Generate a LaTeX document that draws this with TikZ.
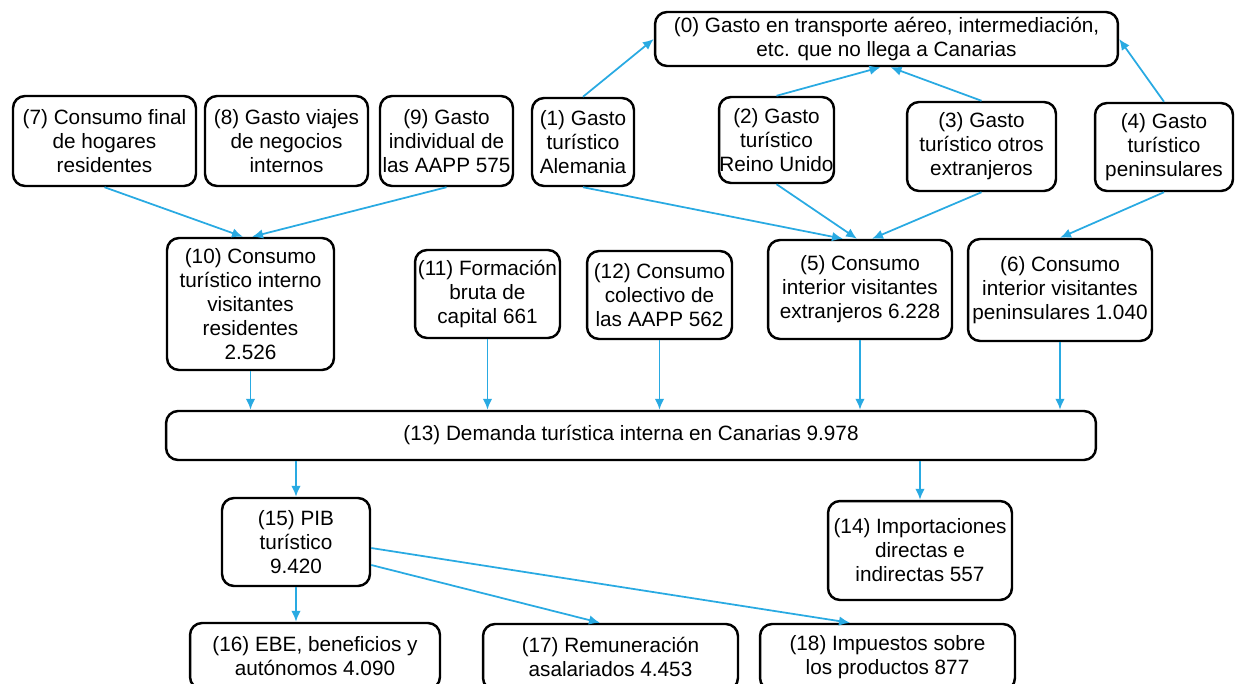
\documentclass[tikz,border=0pt]{standalone}
\usepackage{fontspec}
\setmainfont{Liberation Sans}
\usetikzlibrary{arrows.meta, shapes}
\definecolor{azul}{RGB}{41,170,226}

\begin{document}
\begin{tikzpicture}[x=0.02cm, y=-0.02cm, >={Latex[length=2.2mm, width=1.9mm]}]
    \tikzstyle{every node} = [shape=rectangle, rounded corners=0.24cm, line width=1.4pt, inner sep=0pt, align=center, font=\fontsize{11.8}{13.66}\selectfont]
    \tikzstyle{flecha} = [->, draw=azul, line width=1pt]
    \useasboundingbox (0, 0) rectangle (1236, 683);
    % fila de arriba
    \node (n0) [draw, minimum width=9.26cm, minimum height=1.08cm] at (886.5, 39) {(0) Gasto en transporte aéreo, intermediación,\\etc. que no llega a Canarias};
    \node (n1) [draw, minimum width=2.04cm, minimum height=1.76cm] at (583, 142) {(1) Gasto\\turístico\\Alemania};
    \node (n2) [draw, minimum width=2.3cm, minimum height=1.72cm] at (776.5, 140) {(2) Gasto\\turístico\\Reino Unido};
    \node (n3) [draw, minimum width=2.98cm, minimum height=1.78cm] at (981.5, 146.5) {(3) Gasto\\turístico otros\\extranjeros};
    \node (n4) [draw, minimum width=2.76cm, minimum height=1.76cm] at (1164, 147) {(4) Gasto\\turístico\\peninsulares};
    \node (n7) [draw, minimum width=3.66cm, minimum height=1.8cm] at (104.5, 141) {(7) Consumo final\\de hogares\\residentes};
    \node (n8) [draw, minimum width=3.26cm, minimum height=1.8cm] at (286.5, 141) {(8) Gasto viajes\\de negocios\\internos};
    \node (n9) [draw, minimum width=2.66cm, minimum height=1.8cm] at (446.5, 141) {(9) Gasto\\individual de\\las AAPP 575};
    % fila del medio
    \node (n10) [draw, minimum width=3.34cm, minimum height=2.64cm] at (250.5, 304) {(10) Consumo\\turístico interno\\visitantes\\residentes\\2.526};
    \node (n11) [draw, minimum width=2.9cm, minimum height=1.76cm] at (487.5, 294) {(11) Formación\\bruta de\\capital 661};
    \node (n12) [draw, minimum width=2.9cm, minimum height=1.76cm] at (659.5, 295) {(12) Consumo\\colectivo de\\las AAPP 562};
    \node (n5) [draw, minimum width=3.68cm, minimum height=1.98cm] at (860, 289.5) {(5) Consumo\\interior visitantes\\extranjeros 6.228};
    \node (n6) [draw, minimum width=3.68cm, minimum height=2.04cm] at (1060, 290) {(6) Consumo\\interior visitantes\\peninsulares 1.040};
    \node (n13) [draw, minimum width=18.6cm, minimum height=0.98cm] at (631, 435.5) {(13) Demanda turística interna en Canarias 9.978};
    % fila de abajo
    \node (n15) [draw, minimum width=2.96cm, minimum height=1.76cm] at (296, 542) {(15) PIB\\turístico\\9.420};
    \node (n14) [draw, minimum width=3.68cm, minimum height=1.98cm] at (920, 550.5) {(14) Importaciones\\directas e\\indirectas 557};
    \node (n16) [draw, minimum width=5cm, minimum height=1.32cm] at (315, 656) {(16) EBE, beneficios y\\autónomos 4.090};
    \node (n17) [draw, minimum width=5.1cm, minimum height=1.32cm] at (610.5, 657) {(17) Remuneración\\asalariados 4.453};
    \node (n18) [draw, minimum width=5.1cm, minimum height=1.32cm] at (887.5, 657) {(18) Impuestos sobre\\los productos 877};
    % flechas
    \draw [flecha] (n1.north) -- (n0.west);
    \draw [flecha] (n2.north) -- ([xshift=-0.12cm]n0.south);
    \draw [flecha] (n3.north) -- ([xshift=0.08cm]n0.south);
    \draw [flecha] (n4.north) -- (n0.east);
    \draw [flecha] (n1.south) -- ([xshift=-0.34cm]n5.north);
    \draw [flecha] (n2.south) -- ([xshift=-0.06cm]n5.north);
    \draw [flecha] (n3.south) -- ([xshift=0.24cm]n5.north);
    \draw [flecha] (n4.south) -- (n6.north);
    \draw [flecha] (n7.south) -- ([xshift=-0.15cm]n10.north);
    \draw [flecha] (n9.south) -- ([xshift=0.03cm]n10.north);
    \draw [flecha] (n10.south) -- (n10.south |- n13.north);
    \draw [flecha] (n11.south) -- (n11.south |- n13.north);
    \draw [flecha] (n12.south) -- (n12.south |- n13.north);
    \draw [flecha] (n5.south) -- (n5.south |- n13.north);
    \draw [flecha] (n6.south) -- (n6.south |- n13.north);
    \draw [flecha] (n15.north |- n13.south) -- (n15.north);
    \draw [flecha] (n14.north |- n13.south) -- (n14.north);
    \draw [flecha] (n15.south) -- (n15.south |- n16.north);
    \draw [flecha] ([yshift=-0.46cm]n15.east) -- ([xshift=-0.21cm]n17.north);
    \draw [flecha] ([yshift=-0.12cm]n15.east) -- ([xshift=-0.75cm]n18.north);
\end{tikzpicture}
\end{document}
